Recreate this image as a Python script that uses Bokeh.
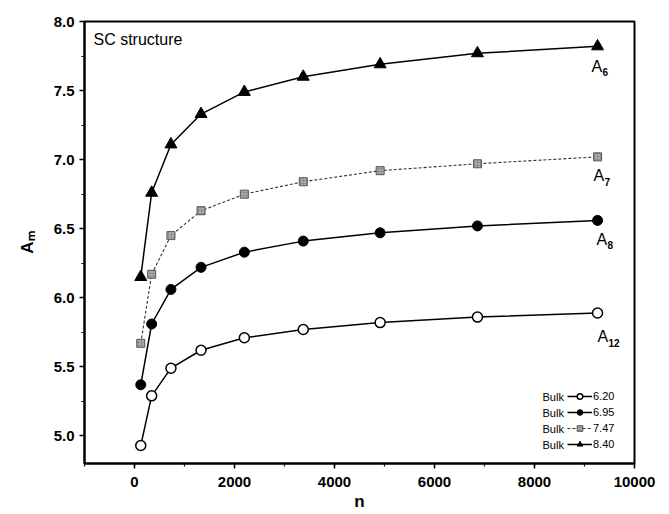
import math
from bokeh.plotting import figure
from bokeh.models import (Label, Legend, LegendItem, SingleIntervalTicker,
                          NumeralTickFormatter, Range1d)
from bokeh.embed import file_html
from bokeh.resources import INLINE

# ---- data ----
n = [125, 343, 729, 1331, 2197, 3375, 4913, 6859, 9261]
a6 = [6.15, 6.76, 7.11, 7.33, 7.49, 7.60, 7.69, 7.77, 7.82]
a7 = [5.67, 6.17, 6.45, 6.63, 6.75, 6.84, 6.92, 6.97, 7.02]
a8 = [5.37, 5.81, 6.06, 6.22, 6.33, 6.41, 6.47, 6.52, 6.56]
a12 = [4.93, 5.29, 5.49, 5.62, 5.71, 5.77, 5.82, 5.86, 5.89]
bulk_values = ["6.20", "6.95", "7.47", "8.40"]
subscripts = ["6", "7", "8", "12"]

FONT = "Liberation Sans"

p = figure(width=669, height=514, x_range=Range1d(-1000, 10000), y_range=Range1d(4.8, 8.0),
           output_backend="svg", toolbar_location=None,
           min_border_left=84, min_border_right=35, min_border_top=21, min_border_bottom=51)
p.xgrid.visible = False
p.ygrid.visible = False
p.outline_line_color = "black"
p.outline_line_width = 2
p.outline_line_alpha = 1

for ax in (p.xaxis[0], p.yaxis[0]):
    ax.axis_line_width = 2
    ax.major_tick_in = 0
    ax.major_tick_out = 5
    ax.minor_tick_in = 0
    ax.minor_tick_out = 3
    ax.major_tick_line_width = 1.5
    ax.minor_tick_line_width = 1.2
    ax.major_label_text_font = FONT
    ax.major_label_text_font_size = "15px"
    ax.major_label_text_font_style = "bold"
    ax.major_label_text_color = "black"
    ax.axis_label_text_font = FONT
    ax.axis_label_text_font_size = "17px"
    ax.axis_label_text_font_style = "bold"
    ax.axis_label_text_color = "black"

p.xaxis.ticker = SingleIntervalTicker(interval=2000, num_minor_ticks=2)
p.yaxis.ticker = SingleIntervalTicker(interval=0.5, num_minor_ticks=2)
p.xaxis.formatter = NumeralTickFormatter(format="0")
p.yaxis.formatter = NumeralTickFormatter(format="0.0")
p.xaxis.major_label_standoff = 8
p.yaxis.major_label_standoff = 5
p.xaxis.axis_label = "n"
p.xaxis.axis_label_standoff = 2
p.yaxis.axis_label = "A\u2098"
p.yaxis.axis_label_standoff = 14

# ---- series ----
l12 = p.line(n, a12, line_color="black", line_width=1.5)
s12 = p.scatter(n, a12, marker="circle", size=10, fill_color="white", line_color="black", line_width=1.5)
l8 = p.line(n, a8, line_color="black", line_width=1.5)
s8 = p.scatter(n, a8, marker="circle", size=10, fill_color="black", line_color="black")
l7 = p.line(n, a7, line_color="#333333", line_width=1.1, line_dash="3 2")
s7 = p.scatter(n, a7, marker="square", size=8, fill_color="#8f8f8f", line_color="#555555",
               line_width=1, hatch_pattern="dot", hatch_color="#dddddd", hatch_scale=3)
l6 = p.line(n, a6, line_color="black", line_width=1.5)
s6 = p.scatter(n, a6, marker="triangle", size=12, fill_color="black", line_color="black")

# ---- curve labels (anchored to last point) ----
series_last = [a6[-1], a7[-1], a8[-1], a12[-1]]
x_offs = [-6, -4, -1, 0]
y_offs = [-20, -19, -19, -24]
for sub, yl, xo, yo in zip(subscripts, series_last, x_offs, y_offs):
    p.add_layout(Label(x=n[-1], y=yl, x_offset=xo, y_offset=yo, text="A",
                       text_font=FONT, text_font_size="16px", text_baseline="middle",
                       text_align="left", text_color="black"))
    p.add_layout(Label(x=n[-1], y=yl, x_offset=xo + 11, y_offset=yo - 6, text=sub,
                       text_font=FONT, text_font_size="10px", text_baseline="middle",
                       text_align="left", text_color="black", text_font_style="bold"))

# ---- title text ----
p.add_layout(Label(x=9, y=424, x_units="screen", y_units="screen", text="SC structure",
                   text_font=FONT, text_font_size="16px", text_baseline="middle",
                   text_color="black"))

# ---- legend ----
items = [LegendItem(label=bulk_values[0], renderers=[l12, s12]),
         LegendItem(label=bulk_values[1], renderers=[l8, s8]),
         LegendItem(label=bulk_values[2], renderers=[l7, s7]),
         LegendItem(label=bulk_values[3], renderers=[l6, s6])]
legend = Legend(items=items, location=(483, 12), border_line_color=None,
                background_fill_alpha=0, padding=0, margin=0, spacing=2,
                glyph_width=25, glyph_height=14, label_height=14, label_standoff=1,
                label_text_font=FONT, label_text_font_size="11px",
                label_text_color="black")
p.add_layout(legend)
for i in range(4):
    p.add_layout(Label(x=458, y=67 - 16 * i, x_units="screen", y_units="screen", text="Bulk",
                       text_font=FONT, text_font_size="11px", text_baseline="middle",
                       text_color="black"))

open("out.html", "w").write(file_html(p, INLINE))
